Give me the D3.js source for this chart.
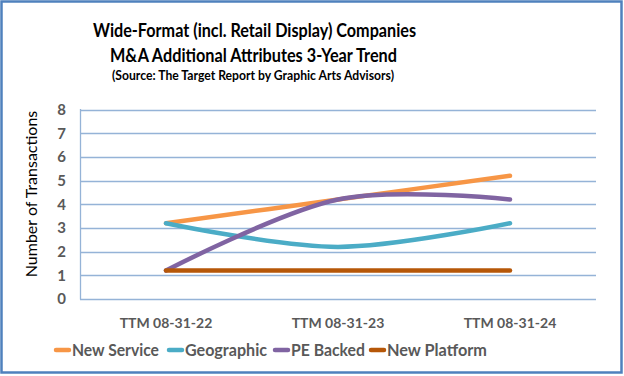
<!DOCTYPE html>
<html><head><meta charset="utf-8">
<script src="https://cdn.jsdelivr.net/npm/d3@7"></script>
<style>body{margin:0;background:#fff}svg{display:block}</style>
</head><body>
<svg id="c" width="624" height="376"></svg>
<script>
const categories = ["TTM 08-31-22", "TTM 08-31-23", "TTM 08-31-24"];
const seriesNames = ["New Service", "Geographic", "PE Backed", "New Platform"];
const newService = [3.2, 4.2, 5.2];
const geographic = [3.2, 2.2, 3.2];
const peBacked = [1.2, 4.2, 4.2];
const newPlatform = [1.2, 1.2, 1.2];
const yTicks = [0, 1, 2, 3, 4, 5, 6, 7, 8];
const colors = ["#F79646", "#4BACC6", "#8064A2", "#B65708"];
const titleLines = ["Wide-Format (incl. Retail Display) Companies", "M&A Additional Attributes 3-Year Trend"];
const subtitle = "(Source: The Target Report by Graphic Arts Advisors)";

const series = [newService, geographic, peBacked, newPlatform];
const svg = d3.select("#c");
const F = "Lato, 'Open Sans', sans-serif";

svg.append("rect").attr("x", 1.5).attr("y", 1.5).attr("width", 620).attr("height", 371)
  .attr("fill", "#fff").attr("stroke", "#4F81BD").attr("stroke-width", 2.5);

const x = d3.scaleBand().domain(categories).range([80, 596]);
const y = d3.scaleLinear().domain([0, 8]).range([299, 109.5]);

const g = svg.append("g");
g.selectAll("line.grid").data(yTicks).join("line")
  .attr("x1", 80).attr("x2", 596)
  .attr("y1", d => Math.round(y(d)) + 0.5).attr("y2", d => Math.round(y(d)) + 0.5)
  .attr("stroke", "#95B3D7").attr("stroke-width", 1.3);
g.append("line").attr("x1", 80.5).attr("x2", 80.5).attr("y1", 109).attr("y2", 299.5)
  .attr("stroke", "#95B3D7").attr("stroke-width", 1.3);

g.selectAll("text.yt").data(yTicks).join("text")
  .attr("x", 66).attr("y", d => y(d)).attr("dy", "0.36em")
  .attr("text-anchor", "end").attr("font-family", F).attr("font-weight", "bold")
  .attr("font-size", 15).attr("fill", "#595959").text(d => d);

g.selectAll("text.xt").data(categories).join("text")
  .attr("x", d => x(d) + x.bandwidth() / 2).attr("y", 328)
  .attr("text-anchor", "middle").attr("font-family", F).attr("font-weight", "bold")
  .attr("font-size", 14).attr("fill", "#595959").text(d => d);

svg.append("text").attr("transform", "translate(37,194) rotate(-90)")
  .attr("text-anchor", "middle").attr("font-family", F).attr("font-size", 16)
  .attr("fill", "#000").text("Number of Transactions");

const line = d3.line()
  .x((d, i) => x(categories[i]) + x.bandwidth() / 2)
  .y(d => y(d))
  .curve(d3.curveCardinal.tension(0));

series.forEach((s, i) => {
  svg.append("path").attr("d", line(s)).attr("fill", "none")
    .attr("stroke", colors[i]).attr("stroke-width", 4.5).attr("stroke-linecap", "round");
});

const t = svg.append("g").attr("font-family", F).attr("font-weight", "bold").attr("fill", "#000")
  .attr("text-anchor", "middle").attr("lengthAdjust", "spacingAndGlyphs");
t.append("text").attr("x", 254.5).attr("y", 37).attr("font-size", 19)
  .attr("textLength", 323).attr("lengthAdjust", "spacingAndGlyphs").text(titleLines[0]);
t.append("text").attr("x", 253.5).attr("y", 62).attr("font-size", 19)
  .attr("textLength", 287).attr("lengthAdjust", "spacingAndGlyphs").text(titleLines[1]);
t.append("text").attr("x", 253).attr("y", 80).attr("font-size", 13.5)
  .attr("textLength", 282).attr("lengthAdjust", "spacingAndGlyphs").text(subtitle);

const legendX = [54, 167, 273, 369];
const legendW = [87, 82, 74, 100];
const lg = svg.append("g");
seriesNames.forEach((n, i) => {
  lg.append("line").attr("x1", legendX[i] + 2).attr("x2", legendX[i] + 15)
    .attr("y1", 350).attr("y2", 350).attr("stroke", colors[i]).attr("stroke-width", 4.5)
    .attr("stroke-linecap", "round");
  lg.append("text").attr("x", legendX[i] + 18).attr("y", 350).attr("dy", "0.36em")
    .attr("font-family", F).attr("font-weight", "bold").attr("font-size", 17)
    .attr("textLength", legendW[i]).attr("lengthAdjust", "spacingAndGlyphs")
    .attr("fill", "#595959").text(n);
});
</script>
</body></html>
